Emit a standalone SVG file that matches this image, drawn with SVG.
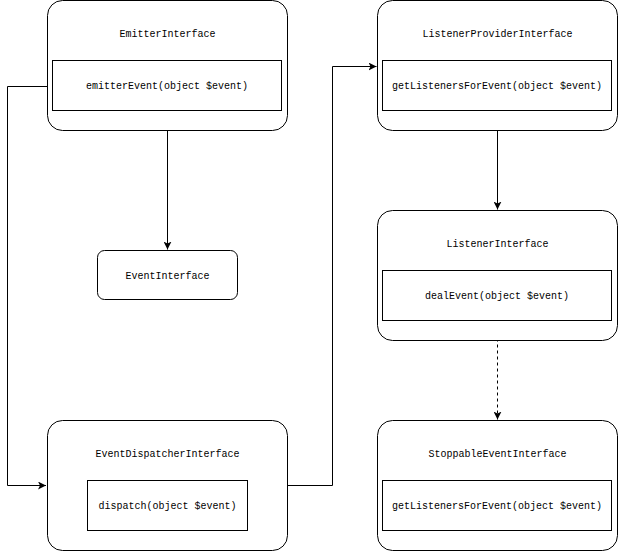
<svg xmlns="http://www.w3.org/2000/svg" width="618" height="551" viewBox="0 0 618 551">
<style>
.outer{fill:#fff;stroke:#000;stroke-width:1}
.inner{fill:#fff;stroke:#000;stroke-width:1}
.t{font-family:"Liberation Mono","DejaVu Sans Mono",monospace;font-size:10px;fill:#000;text-anchor:middle}
.c{fill:none;stroke:#000;stroke-width:1}
.d{stroke-dasharray:3 3}
</style>
<defs>
<marker id="arr" viewBox="0 0 10 10" refX="10" refY="5" markerWidth="8" markerHeight="8" markerUnits="userSpaceOnUse" orient="auto">
<path d="M0,0 L10,5 L0,10 L2.5,5 Z" fill="#000"/>
</marker>
</defs>
<rect width="618" height="551" fill="#fff"/>
<g id="connectors">
<path class="c" d="M52.5,86.5 H7.5 V485.5 H46" marker-end="url(#arr)"/>
<path class="c" d="M167.5,110.5 V249.5" marker-end="url(#arr)"/>
<path class="c" d="M287.5,485.5 H332.5 V66.5 H376.5" marker-end="url(#arr)"/>
<path class="c" d="M497.5,110.5 V209.5" marker-end="url(#arr)"/>
<path class="c d" d="M497.5,320.5 V419.5" marker-end="url(#arr)"/>
</g>
<g id="emitter">
<rect class="outer" x="47.5" y="0.5" width="240" height="130" rx="15"/>
<text class="t" x="167.5" y="37">EmitterInterface</text>
<rect class="inner" x="52.5" y="60.5" width="229" height="50"/>
<text class="t" x="167" y="89">emitterEvent(object $event)</text>
</g>
<g id="provider">
<rect class="outer" x="377.5" y="0.5" width="240" height="130" rx="15"/>
<text class="t" x="497.5" y="37">ListenerProviderInterface</text>
<rect class="inner" x="382.5" y="60.5" width="229" height="50"/>
<text class="t" x="497" y="89">getListenersForEvent(object $event)</text>
</g>
<g id="eventinterface">
<rect class="outer" x="97.5" y="250.5" width="140" height="49" rx="7"/>
<text class="t" x="167.5" y="278.5">EventInterface</text>
</g>
<g id="listener">
<rect class="outer" x="377.5" y="210.5" width="240" height="130" rx="15"/>
<text class="t" x="497.5" y="247">ListenerInterface</text>
<rect class="inner" x="382.5" y="270.5" width="229" height="50"/>
<text class="t" x="497" y="299">dealEvent(object $event)</text>
</g>
<g id="dispatcher">
<rect class="outer" x="47.5" y="420.5" width="240" height="130" rx="15"/>
<text class="t" x="167.5" y="457">EventDispatcherInterface</text>
<rect class="inner" x="87.5" y="480.5" width="160" height="50"/>
<text class="t" x="167.5" y="509">dispatch(object $event)</text>
</g>
<g id="stoppable">
<rect class="outer" x="377.5" y="420.5" width="240" height="130" rx="15"/>
<text class="t" x="497.5" y="457">StoppableEventInterface</text>
<rect class="inner" x="382.5" y="480.5" width="229" height="50"/>
<text class="t" x="497" y="509">getListenersForEvent(object $event)</text>
</g>
</svg>
